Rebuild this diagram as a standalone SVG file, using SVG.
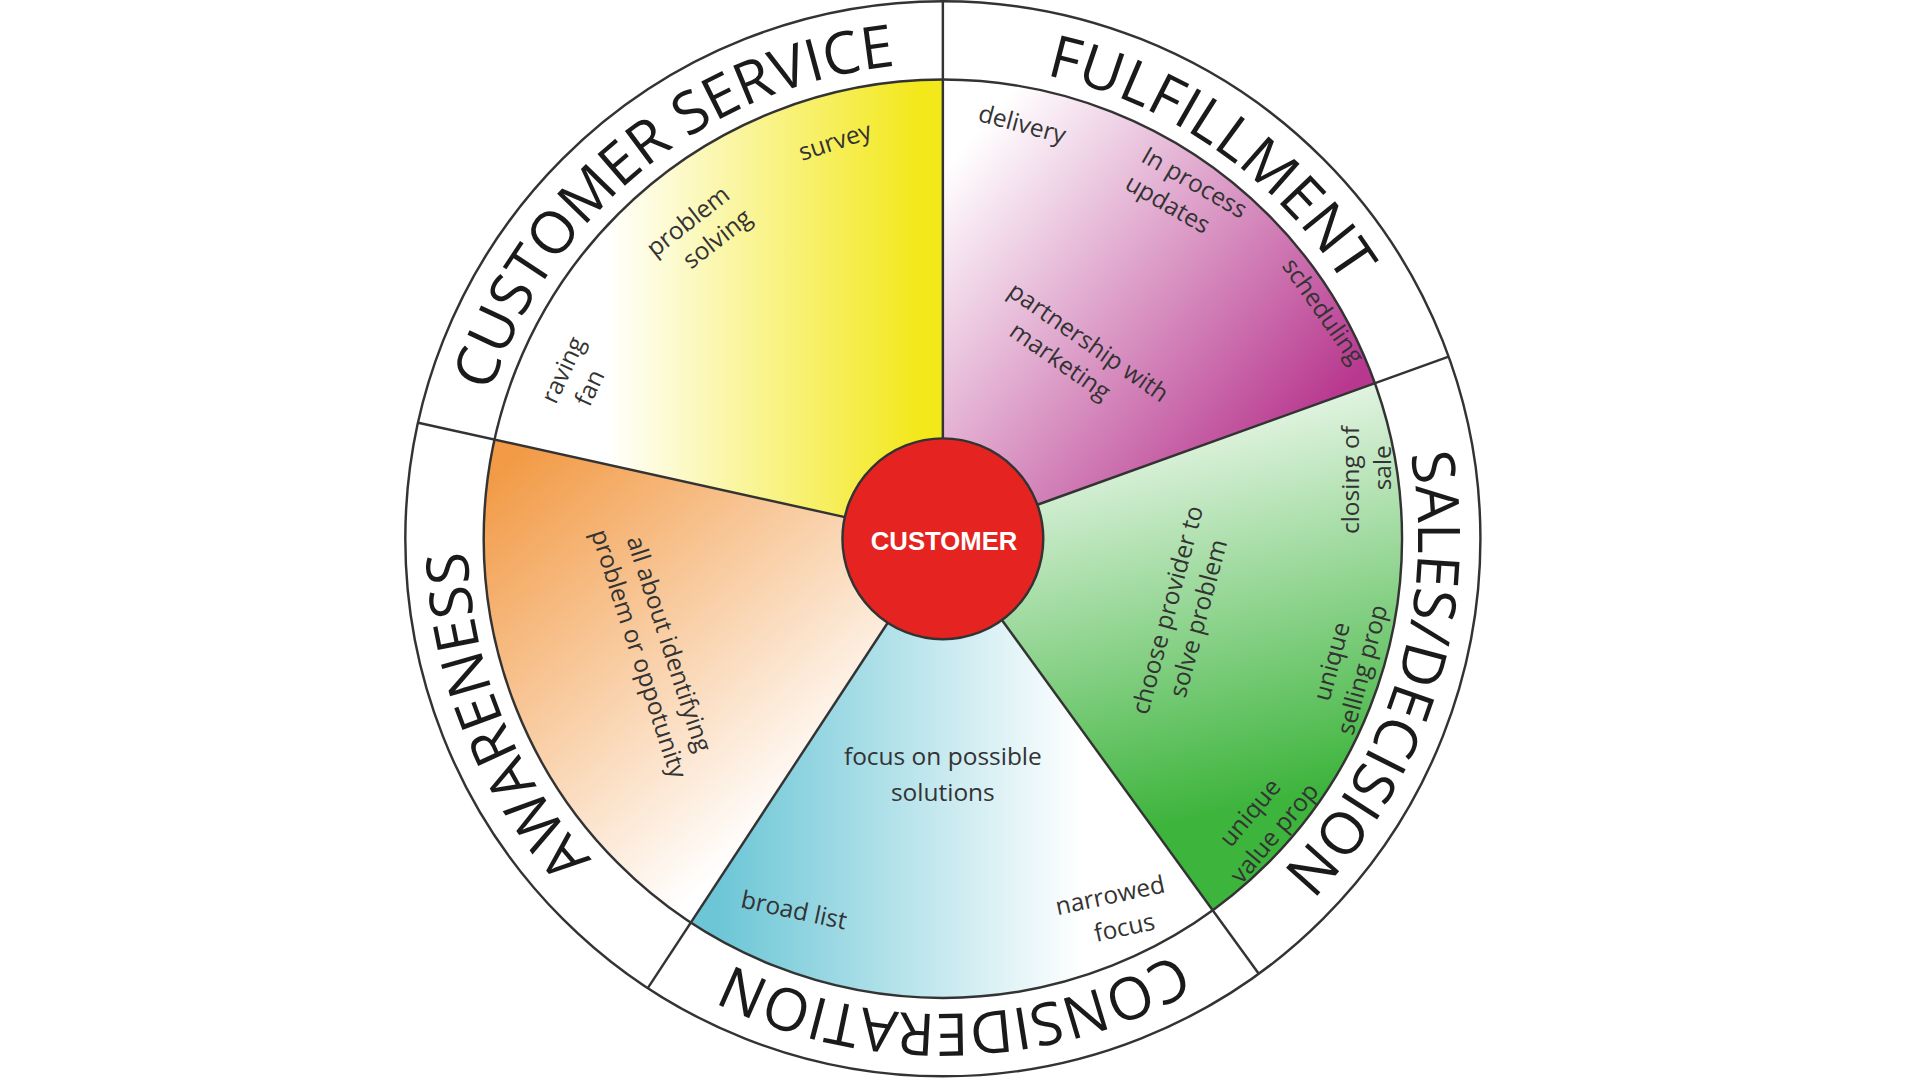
<svg xmlns="http://www.w3.org/2000/svg" width="1920" height="1080" viewBox="0 0 1920 1080">
<defs>
<style>
.ring{font-family:"Open Sans","Liberation Sans",sans-serif;font-size:48px;fill:#1a1a1a}
.lbl{font-family:"Open Sans","Liberation Sans",sans-serif;font-size:20px;fill:#333;text-anchor:middle}
.ln{stroke:#333;stroke-width:2;fill:none}
</style>
<linearGradient id="gY" x1="0" y1="0" x2="1" y2="0"><stop offset="0.25" stop-color="#fff"/><stop offset="0.95" stop-color="#f3e81a"/></linearGradient>
<linearGradient id="gP" x1="0" y1="0" x2="1" y2="0.9"><stop offset="0.1" stop-color="#fff"/><stop offset="0.85" stop-color="#b8388f"/></linearGradient>
<linearGradient id="gG" x1="0" y1="0" x2="0.2" y2="1"><stop offset="0.05" stop-color="#fff"/><stop offset="0.9" stop-color="#3db43c"/></linearGradient>
<linearGradient id="gC" x1="0" y1="0" x2="1" y2="0"><stop offset="0.05" stop-color="#6cc6d6"/><stop offset="0.75" stop-color="#fff"/></linearGradient>
<linearGradient id="gO" x1="0" y1="0" x2="0.8" y2="1"><stop offset="0.05" stop-color="#f29a45"/><stop offset="0.8" stop-color="#fff"/></linearGradient>
<path id="circ" d="M770,52 A388,388 0 1 1 770,828 A388,388 0 1 1 770,52"/>
</defs>
<rect width="1920" height="1080" fill="#fff"/>
<g transform="scale(1.2245)">
<g id="wedges">
<path d="M770,440 L770,65 A375,375 0 0 0 404,359 Z" fill="url(#gY)"/>
<path d="M770,440 L770,65 A375,375 0 0 1 1122.9,312.9 Z" fill="url(#gP)"/>
<path d="M770,440 L1122.9,312.9 A375,375 0 0 1 990.4,743.4 Z" fill="url(#gG)"/>
<path d="M770,440 L990.4,743.4 A375,375 0 0 1 564.1,753.5 Z" fill="url(#gC)"/>
<path d="M770,440 L564.1,753.5 A375,375 0 0 1 404,359 Z" fill="url(#gO)"/>
</g>
<g id="connectors">
<circle class="ln" cx="770" cy="440" r="439"/>
<circle class="ln" cx="770" cy="440" r="375"/>
<line class="ln" x1="770" y1="358" x2="770" y2="1"/>
<line class="ln" x1="847.2" y1="412.2" x2="1183.1" y2="291.3"/>
<line class="ln" x1="818.2" y1="506.3" x2="1028" y2="795.2"/>
<line class="ln" x1="725" y1="508.6" x2="529" y2="807"/>
<line class="ln" x1="690" y1="422.3" x2="341.5" y2="345.2"/>
</g>
<g id="ringlabels" class="ring">
<text><textPath href="#circ" startOffset="9.75%" text-anchor="middle">FULFILLMENT</textPath></text>
<text><textPath href="#circ" startOffset="29.75%" text-anchor="middle">SALES/DECISION</textPath></text>
<text><textPath href="#circ" startOffset="49.6%" text-anchor="middle">CONSIDERATION</textPath></text>
<text><textPath href="#circ" startOffset="68.9%" text-anchor="middle">AWARENESS</textPath></text>
<text><textPath href="#circ" startOffset="89.2%" text-anchor="middle">CUSTOMER SERVICE</textPath></text>
</g>
<g id="labels" class="lbl">
<text transform="translate(684,122) rotate(-18)">survey</text>
<text transform="translate(566,186) rotate(-38)"><tspan x="0" y="0">problem</tspan><tspan x="10" y="26">solving</tspan></text>
<text transform="translate(466,305) rotate(-65)"><tspan x="0" y="0">raving</tspan><tspan x="-4" y="26">fan</tspan></text>
<text transform="translate(833,108) rotate(15)">delivery</text>
<text transform="translate(972,155) rotate(30)"><tspan x="0" y="0">In process</tspan><tspan x="-10" y="26">updates</tspan></text>
<text transform="translate(1075,258) rotate(55)">scheduling</text>
<text transform="translate(885,285) rotate(35)"><tspan x="0" y="0">partnership with</tspan><tspan x="-10" y="26">marketing</tspan></text>
<text transform="translate(1110,392) rotate(-90)"><tspan x="0" y="0">closing of</tspan><tspan x="10" y="26">sale</tspan></text>
<text transform="translate(960,500) rotate(-75)"><tspan x="0" y="0">choose provider to</tspan><tspan x="0" y="26">solve problem</tspan></text>
<text transform="translate(1094,542) rotate(-75)"><tspan x="0" y="0">unique</tspan><tspan x="0" y="26">selling prop</tspan></text>
<text transform="translate(1026,668) rotate(-50)"><tspan x="0" y="0">unique</tspan><tspan x="0" y="26">value prop</tspan></text>
<text x="770" y="625">focus on possible</text>
<text x="770" y="654">solutions</text>
<text transform="translate(647,750) rotate(12)">broad list</text>
<text transform="translate(908,738) rotate(-12)"><tspan x="0" y="0">narrowed</tspan><tspan x="6" y="28">focus</tspan></text>
<text transform="translate(540,528) rotate(72)"><tspan x="0" y="0">all about identifying</tspan><tspan x="0" y="26">problem or oppotunity</tspan></text>
</g>
<g id="customer">
<circle cx="770" cy="440" r="82" fill="#e52421" stroke="#333" stroke-width="2"/>
<text x="771" y="449" text-anchor="middle" font-family="Liberation Sans,Arial,sans-serif" font-weight="bold" font-size="21" fill="#fff">CUSTOMER</text>
</g>
</g>
</svg>
